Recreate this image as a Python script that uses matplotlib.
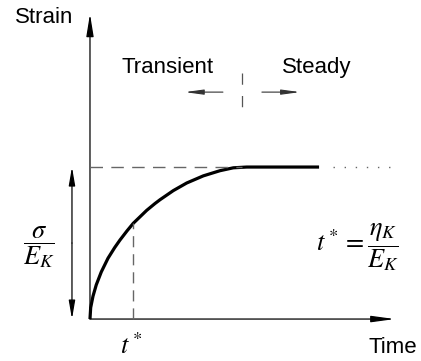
"""Kelvin-Voigt creep response: strain vs. time with transient and steady regions."""

import matplotlib.pyplot as plt
from matplotlib.patches import FancyArrowPatch

plt.rcParams["mathtext.fontset"] = "stix"
LABEL_FONT = ["Liberation Sans Narrow", "Liberation Sans", "DejaVu Sans"]

# time in units of t*, strain in units of sigma / E_K
time = [0, 0.016, 0.069, 0.145, 0.261, 0.416, 0.570, 0.693, 0.855, 1.0, 1.309,
        1.501, 1.617, 1.924, 2.233, 2.617, 3.002, 3.31, 3.62, 5.29]
strain = [0, 0.075, 0.150, 0.225, 0.310, 0.400, 0.470, 0.520, 0.580, 0.630, 0.715,
          0.760, 0.785, 0.845, 0.895, 0.942, 0.976, 0.995, 1.0, 1.0]
t_star = 1.0
strain_at_t_star = 0.63
plateau = 1.0
plateau_end = 3.5
dotted_span = [5.61, 7.0]

fig = plt.figure(figsize=(4.21, 3.61), dpi=100)
ax = fig.add_axes([0, 0, 1, 1])
ax.set_xlim(-2.078, 7.644)
ax.set_ylim(-0.276, 2.099)
ax.axis("off")


def arrow(p0, p1, hl=13.5, hw=2.2, lw=0.9, color="black"):
    ax.add_patch(FancyArrowPatch(
        p0, p1, arrowstyle=f"-|>,head_length={hl},head_width={hw}",
        mutation_scale=1, lw=lw, color=color, shrinkA=0, shrinkB=0))


# axes
arrow((0, 0), (0, 2.007))
arrow((0, 0), (7.04, 0), hl=14, hw=1.9)

# creep curve and its plateau
ax.plot(time, strain, color="black", lw=2.3, solid_capstyle="butt", solid_joinstyle="round")
ax.plot(dotted_span, [plateau, plateau], color="#666666", lw=1.0, ls=(0, (1, 7)))
ax.plot([0, plateau_end], [plateau, plateau], color="#666666", lw=1.0, ls=(0, (9, 6)))
ax.plot([t_star, t_star], [0, strain_at_t_star], color="#666666", lw=1.0, ls=(0, (8, 5)))

# magnitude of the final strain
arrow((-0.416, 0.5), (-0.416, 1.0), hl=11, hw=1.9)
arrow((-0.416, 0.5), (-0.416, 0.0), hl=11, hw=1.9)

# transient / steady split
ax.plot([3.51, 3.51], [1.618, 1.375], color="#555555", lw=0.9, ls=(0, (9, 9)))
arrow((3.07, 1.493), (2.19, 1.493), hl=11, hw=1.5, lw=0.8, color="#333333")
arrow((3.97, 1.493), (4.85, 1.493), hl=11, hw=1.5, lw=0.8, color="#333333")

ax.text(1.78, 1.622, "Transient", fontsize=16, family=LABEL_FONT, ha="center", va="baseline")
ax.text(5.24, 1.622, "Steady", fontsize=16, family=LABEL_FONT, ha="center", va="baseline")
ax.text(-1.06, 1.987, "Strain", fontsize=16, family=LABEL_FONT, ha="center", va="center")
ax.text(7.0, -0.19, "Time", fontsize=16, family=LABEL_FONT, ha="center", va="center")

ax.text(-1.18, 0.474, r"$\dfrac{\sigma}{E_K}$", fontsize=19, ha="center", va="center")
ax.text(0.95, -0.18, r"$t^*$", fontsize=19, ha="center", va="center")
ax.text(6.17, 0.474, r"$t^* = \dfrac{\eta_K}{E_K}$", fontsize=19, ha="center", va="center")

fig.savefig("out.png", dpi=100)
